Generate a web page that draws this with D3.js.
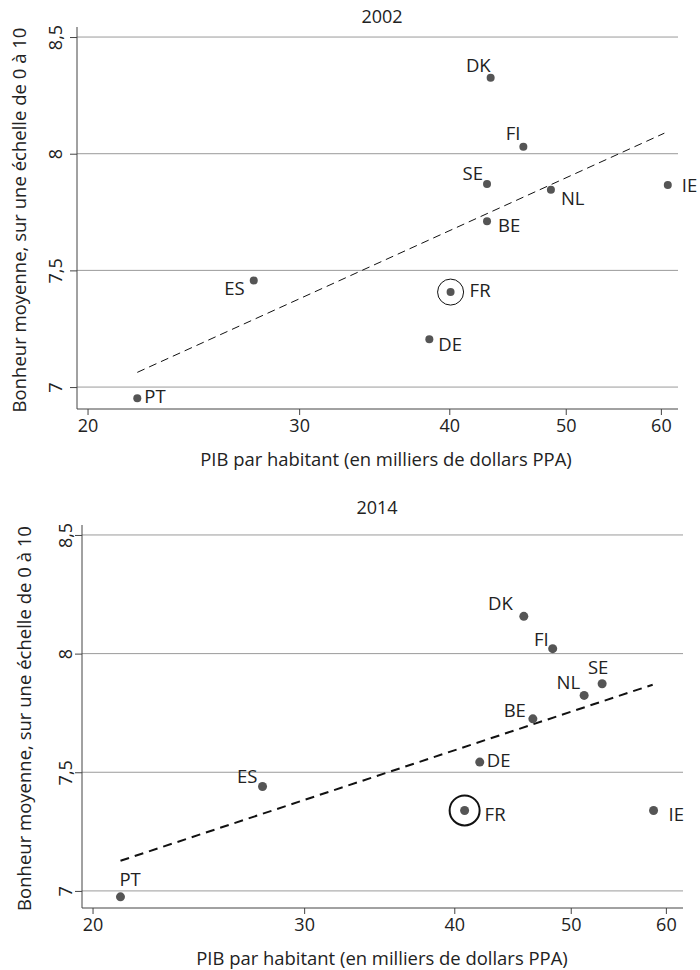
<!DOCTYPE html>
<html>
<head>
<meta charset="utf-8">
<script src="https://cdn.jsdelivr.net/npm/d3@7"></script>
<style>
  body { margin: 0; background: #fff; }
  svg text { font-family: "Open Sans", Lato, sans-serif; fill: #222; }
</style>
</head>
<body>
<div id="app"></div>
<script>
// data
const countries = ["DK", "FI", "SE", "NL", "IE", "BE", "ES", "PT", "FR", "DE"];

const gdp2002 = [43.3, 46.1, 43.0, 48.6, 60.8, 43.0, 27.5, 22.0, 40.1, 38.5];
const happy2002 = [8.325, 8.03, 7.87, 7.846, 7.866, 7.711, 7.457, 6.952, 7.407, 7.205];
const fit2002 = [[22.0, 7.063], [60.4, 8.088]];

const gdp2014 = [45.7, 48.3, 53.1, 51.3, 58.6, 46.5, 27.7, 21.1, 40.8, 42.0];
const happy2014 = [8.157, 8.021, 7.873, 7.824, 7.339, 7.725, 7.44, 6.975, 7.339, 7.543];
const fit2014 = [[21.1, 7.127], [58.5, 7.869]];

const xTicks = [20, 30, 40, 50, 60];
const yTicks = [7, 7.5, 8, 8.5];

// label placement relative to each dot: [anchor, dx, dy]
const labels2002 = {
  DK: ["end", 0, -6], FI: ["end", -3, -7], SE: ["end", -4, -4],
  NL: ["start", 10, 15], IE: ["start", 14, 7], BE: ["start", 11, 11],
  ES: ["end", -9, 15], PT: ["start", 7, 5], FR: ["start", 19, 5],
  DE: ["start", 9, 12]
};
const labels2014 = {
  DK: ["end", -11, -6], FI: ["end", -4, -3], SE: ["middle", -4, -10],
  NL: ["end", -4, -6], BE: ["end", -7, -2], DE: ["start", 7, 5],
  FR: ["start", 20, 11], IE: ["start", 15, 11], ES: ["end", -5, -4],
  PT: ["start", -1, -11]
};

const W = 700, H = 970;
const svg = d3.select("#app").append("svg").attr("width", W).attr("height", H);

const fmt = (d) => String(d).replace(".", ",");

// shrink/grow a text's font so it spans the wanted width
function fitWidth(sel, target) {
  const node = sel.node();
  const fs = parseFloat(sel.style("font-size"));
  const len = node.getComputedTextLength();
  if (len > 0) sel.style("font-size", (fs * target / len).toFixed(2) + "px");
}

function drawPanel(opt) {
  const x = d3.scaleLog().domain([19.6, 62]).range([opt.left, opt.right]);
  const y = d3.scaleLinear().domain(opt.yDomain).range([opt.bottom, opt.top]);
  const g = svg.append("g");

  // title
  g.append("text")
    .attr("x", opt.titleX)
    .attr("y", opt.titleY)
    .attr("text-anchor", "middle")
    .style("font-size", "18px")
    .text(opt.title);

  // grid
  g.selectAll(".grid")
    .data(yTicks)
    .enter()
    .append("line")
    .attr("x1", opt.left)
    .attr("x2", opt.right)
    .attr("y1", (d) => y(d))
    .attr("y2", (d) => y(d))
    .attr("stroke", "#9a9a9a")
    .attr("stroke-width", 1);

  // y axis
  const yAxis = g.append("g")
    .attr("transform", `translate(${opt.left},0)`)
    .call(d3.axisLeft(y).tickValues(yTicks).tickFormat(fmt).tickSize(7));
  yAxis.select(".domain").attr("stroke", "#444").attr("d", `M0,${opt.top}V${opt.bottom}`);
  yAxis.selectAll(".tick line").attr("stroke", "#444");
  yAxis.selectAll(".tick text")
    .attr("transform", "rotate(-90)")
    .attr("x", 0)
    .attr("y", -opt.yLabGap)
    .attr("dy", "0")
    .attr("text-anchor", "middle")
    .style("font-size", "18px")
    .style("font-family", "'Open Sans', sans-serif")
    .attr("fill", "#222");

  // x axis
  const xAxis = g.append("g")
    .attr("transform", `translate(0,${opt.bottom})`)
    .call(d3.axisBottom(x).tickValues(xTicks).tickFormat(d3.format("d")).tickSize(6).tickPadding(4));
  xAxis.select(".domain").attr("stroke", "#444").attr("d", `M${opt.left},0H${opt.right}`);
  xAxis.selectAll(".tick line").attr("stroke", "#444");
  xAxis.selectAll(".tick text")
    .style("font-size", "18px")
    .style("font-family", "'Open Sans', sans-serif")
    .attr("fill", "#222");

  // axis titles
  const xt = g.append("text")
    .attr("x", opt.xTitleX)
    .attr("y", opt.bottom + 57)
    .attr("text-anchor", "middle")
    .style("font-size", "18px")
    .text("PIB par habitant (en milliers de dollars PPA)");
  fitWidth(xt, 372);

  const yt = g.append("text")
    .attr("transform", `translate(${opt.left - opt.yTitleGap},${(opt.top + opt.bottom) / 2 + 2}) rotate(-90)`)
    .attr("text-anchor", "middle")
    .style("font-size", "17px")
    .text("Bonheur moyenne, sur une échelle de 0 à 10");
  fitWidth(yt, 385);

  // fitted line
  g.append("path")
    .datum(opt.fit)
    .attr("d", d3.line().x((d) => x(d[0])).y((d) => y(d[1])))
    .attr("fill", "none")
    .attr("stroke", "#111")
    .attr("stroke-width", opt.fitWidth)
    .attr("stroke-dasharray", opt.dash);

  const pts = countries.map((c, i) => ({ c, gdp: opt.gdp[i], h: opt.happy[i] }));

  // France highlight ring
  const fr = pts.find((p) => p.c === "FR");
  g.append("circle")
    .attr("cx", x(fr.gdp))
    .attr("cy", y(fr.h))
    .attr("r", opt.ringR)
    .attr("fill", "none")
    .attr("stroke", "#111")
    .attr("stroke-width", opt.ringWidth);

  // dots
  g.selectAll(".dot")
    .data(pts)
    .enter()
    .append("circle")
    .attr("cx", (d) => x(d.gdp))
    .attr("cy", (d) => y(d.h))
    .attr("r", opt.dotR)
    .attr("fill", "#555");

  // labels
  g.selectAll(".lab")
    .data(pts)
    .enter()
    .append("text")
    .attr("x", (d) => x(d.gdp) + opt.labels[d.c][1])
    .attr("y", (d) => y(d.h) + opt.labels[d.c][2])
    .attr("text-anchor", (d) => opt.labels[d.c][0])
    .style("font-size", "18.5px")
    .text((d) => d.c);
}

drawPanel({
  title: "2002", titleX: 382, titleY: 23, xTitleX: 386, yLabGap: 15, yTitleGap: 51,
  left: 77, right: 678, top: 27, bottom: 409,
  yDomain: [6.906, 8.543], gdp: gdp2002, happy: happy2002, fit: fit2002,
  labels: labels2002, dotR: 4, ringR: 13, ringWidth: 1, fitWidth: 1, dash: "8,5"
});

drawPanel({
  title: "2014", titleX: 377, titleY: 514, xTitleX: 382, yLabGap: 10, yTitleGap: 51,
  left: 82, right: 683, top: 525, bottom: 908,
  yDomain: [6.928, 8.542], gdp: gdp2014, happy: happy2014, fit: fit2014,
  labels: labels2014, dotR: 4.5, ringR: 15, ringWidth: 2, fitWidth: 2, dash: "9,6"
});
</script>
</body>
</html>
